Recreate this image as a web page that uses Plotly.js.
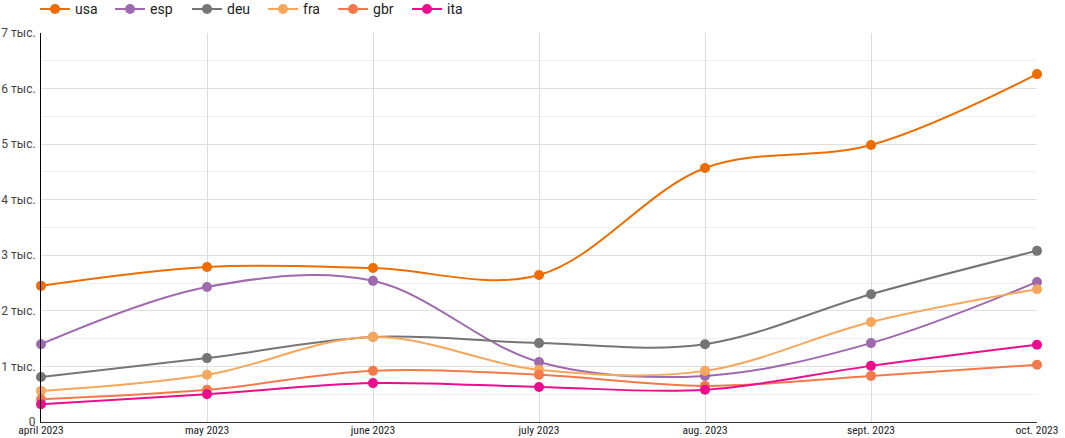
<!DOCTYPE html>
<html>
<head>
<meta charset="utf-8">
<script src="https://cdn.plot.ly/plotly-3.0.1.min.js"></script>
<style>html,body{margin:0;padding:0;background:#fff;}#chart{width:1065px;height:438px;}</style>
</head>
<body>
<div id="chart"></div>
<script>
const months = ['april 2023', 'may 2023', 'june 2023', 'july 2023', 'aug. 2023', 'sept. 2023', 'oct. 2023'];
const usa = [2450, 2790, 2770, 2645, 4570, 4985, 6260];
const esp = [1400, 2430, 2540, 1080, 830, 1420, 2520];
const deu = [810, 1150, 1530, 1420, 1400, 2300, 3080];
const fra = [560, 850, 1530, 940, 920, 1800, 2390];
const gbr = [410, 580, 920, 850, 650, 830, 1030];
const ita = [320, 500, 700, 630, 580, 1010, 1390];
const yTickVals = [0, 1000, 2000, 3000, 4000, 5000, 6000, 7000];
const yTickText = ['0', '1 тыс.', '2 тыс.', '3 тыс.', '4 тыс.', '5 тыс.', '6 тыс.', '7 тыс.'];

const series = [
  {name: 'usa', y: usa, color: '#ef6c00', lw: 30},
  {name: 'esp', y: esp, color: '#9e69af', lw: 32},
  {name: 'deu', y: deu, color: '#757575', lw: 31},
  {name: 'fra', y: fra, color: '#f6a75c', lw: 25},
  {name: 'gbr', y: gbr, color: '#f4794a', lw: 29},
  {name: 'ita', y: ita, color: '#ec0d8f', lw: 30}
];

const traces = series.map(s => ({
  type: 'scatter', mode: 'lines+markers', name: s.name,
  x: months, y: s.y,
  line: {color: s.color, width: 2, shape: 'spline', smoothing: 1},
  marker: {color: s.color, size: 10},
  legendwidth: s.lw,
  cliponaxis: false
}));

const layout = {
  width: 1065, height: 438,
  margin: {l: 41, r: 28, t: 33, b: 16, autoexpand: false},
  paper_bgcolor: '#fff', plot_bgcolor: '#fff',
  font: {family: 'Roboto, sans-serif', size: 12, color: '#444'},
  showlegend: true,
  legend: {orientation: 'h', x: -0.006, xanchor: 'left', y: 1.102, yanchor: 'top',
           bgcolor: 'rgba(0,0,0,0)',
           font: {family: 'Roboto, sans-serif', size: 14, color: '#222'}, itemwidth: 30},
  xaxis: {
    type: 'category', range: [0, 6], automargin: false,
    showgrid: true, gridcolor: '#dcdcdc', gridwidth: 1,
    showline: true, linecolor: '#333', linewidth: 1,
    zeroline: false, ticks: '', ticklen: 0, ticklabelstandoff: -3,
    tickfont: {family: '"Liberation Sans Narrow", "Roboto Condensed", "Roboto", sans-serif', size: 11.5, color: '#222'}
  },
  yaxis: {
    range: [0, 7000], automargin: false,
    tickvals: yTickVals, ticktext: yTickText,
    showgrid: true, gridcolor: '#e0e0e0', gridwidth: 1,
    minor: {dtick: 500, tick0: 0, showgrid: true, gridcolor: '#f1f1f1', ticks: ''},
    showline: true, linecolor: '#000', linewidth: 1,
    zeroline: false, ticks: '', ticklabelstandoff: 2,
    tickfont: {family: 'Roboto, sans-serif', size: 12, color: '#444'}
  }
};

Plotly.newPlot('chart', traces, layout, {displayModeBar: false, staticPlot: true});
</script>
</body>
</html>
